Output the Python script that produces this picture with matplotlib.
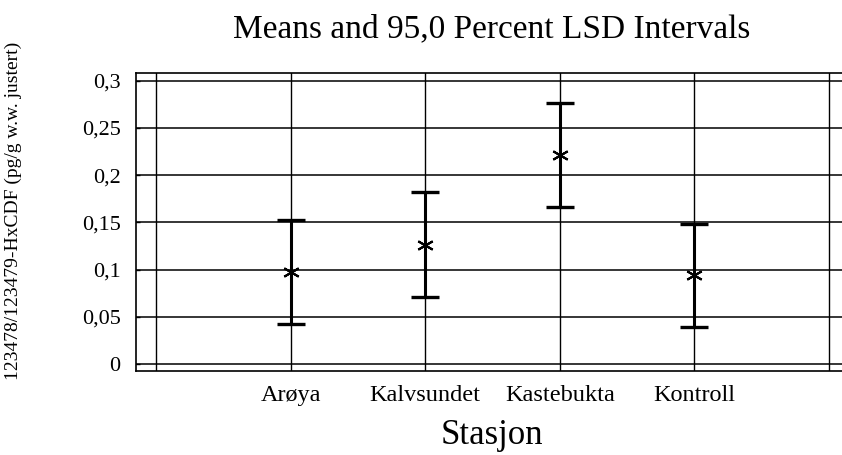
import matplotlib
matplotlib.use("Agg")
import matplotlib.pyplot as plt

# LSD intervals per station
stations = ["Arøya", "Kalvsundet", "Kastebukta", "Kontroll"]
means = [0.097, 0.126, 0.221, 0.094]
lower = [0.042, 0.071, 0.166, 0.039]
upper = [0.153, 0.182, 0.276, 0.148]

y_ticks = [0, 0.05, 0.1, 0.15, 0.2, 0.25, 0.3]
y_tick_labels = ["0", "0,05", "0,1", "0,15", "0,2", "0,25", "0,3"]

plt.rcParams['font.family'] = ['Liberation Serif', 'DejaVu Serif']

W, H = 842, 455
fig = plt.figure(figsize=(W / 100, H / 100), dpi=100)

# axes box in pixels (right edge runs off the picture like the original)
left_px, right_px, top_px, bottom_px = 136, 852, 72.7, 371
ax = fig.add_axes([left_px / W, 1 - bottom_px / H,
                   (right_px - left_px) / W, (bottom_px - top_px) / H])

x_unit = (829 - 156) / 5
y_unit = 0.3 / (364 - 80.7)
ax.set_xlim(-(156 - left_px) / x_unit, 5 + (right_px - 829) / x_unit)
ax.set_ylim(-(bottom_px - 364) * y_unit, 0.3 + (80.7 - top_px) * y_unit)

xs = list(range(1, len(stations) + 1))

# grid
for gx in range(0, len(stations) + 2):
    ax.axvline(gx, color='black', lw=1.0, zorder=1)
for gy in y_ticks:
    ax.axhline(gy, color='black', lw=1.1, zorder=1)

yerr = [[m - lo for m, lo in zip(means, lower)],
        [up - m for m, up in zip(means, upper)]]
ax.errorbar(xs, means, yerr=yerr, fmt='none', ecolor='black',
            elinewidth=2.2, capsize=10, capthick=2.4, zorder=3)
ax.plot(xs, means, linestyle='none', marker=(6, 2, 0), markersize=12,
        markeredgewidth=1.5, color='black', zorder=4)

ax.set_xticks(xs)
ax.set_xticklabels(stations, fontsize=17.5)
ax.set_yticks(y_ticks)
ax.set_yticklabels(y_tick_labels, fontsize=16)
ax.tick_params(axis='y', direction='in', length=3, width=1, pad=11)
ax.tick_params(axis='x', length=0, pad=10)
for s in ax.spines.values():
    s.set_linewidth(1.2)

fig.text(492 / W, 1 - 29 / H, "Means and 95,0 Percent LSD Intervals",
         ha='center', va='center', fontsize=24)
fig.text(492 / W, 1 - 436 / H, "Stasjon", ha='center', va='center', fontsize=25)
fig.text(13 / W, 1 - 211 / H, "123478/123479-HxCDF (pg/g w.w. justert)",
         ha='center', va='center', rotation=90, fontsize=14)

fig.savefig("out.png", dpi=100)
